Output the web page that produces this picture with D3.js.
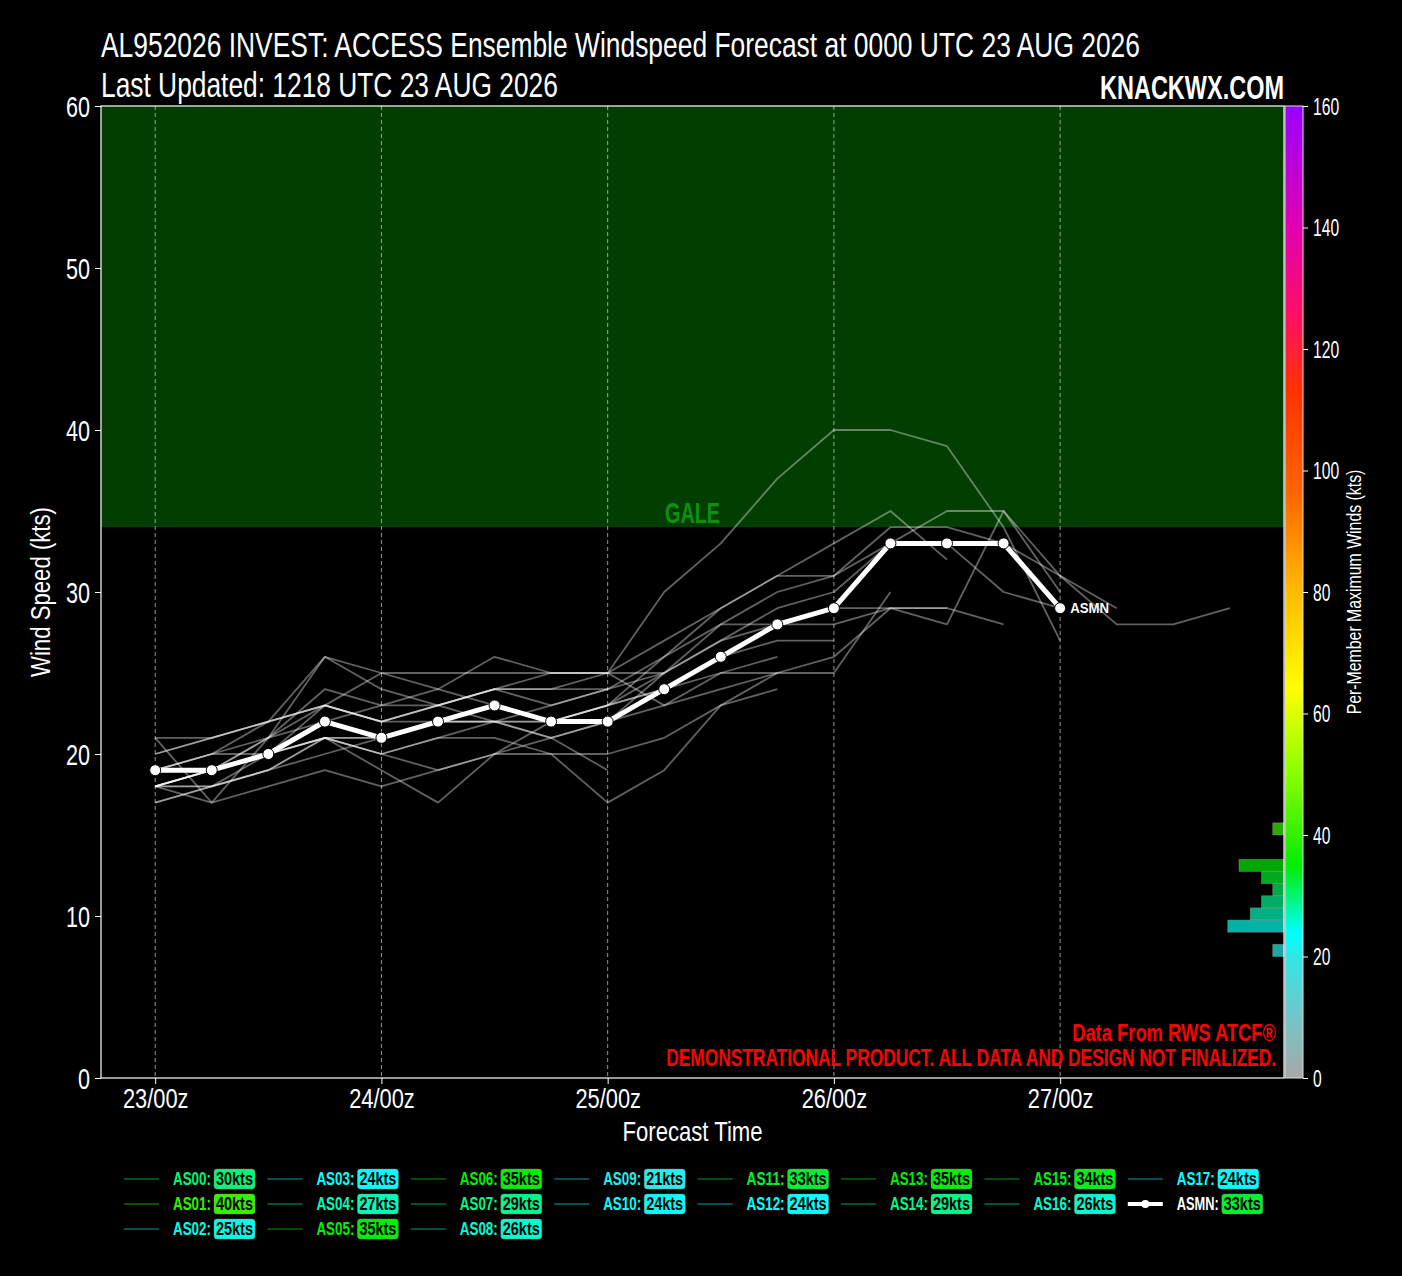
<!DOCTYPE html>
<html><head><meta charset="utf-8">
<script src="https://cdn.jsdelivr.net/npm/d3@7"></script>
<style>body{margin:0;background:#000;} svg{display:block}</style>
</head><body>
<svg id="chart" width="1402" height="1276"></svg>
<script>
// ---------------- DATA ----------------
const forecastHours = [0,6,12,18,24,30,36,42,48,54,60,66,72,78,84,90,96,102,108,114];
const dayTicks = [0,24,48,72,96];
const dayLabels = ["23/00z","24/00z","25/00z","26/00z","27/00z"];
const yTicks = [0,10,20,30,40,50,60];
const cbTicks = [0,20,40,60,80,100,120,140,160];
const memberNames = ["AS00","AS01","AS02","AS03","AS04","AS05","AS06","AS07","AS08","AS09","AS10","AS11","AS12","AS13","AS14","AS15","AS16","AS17"];
const memberMax = [30,40,25,24,27,35,35,29,26,21,24,33,24,35,29,34,26,24];
const AS00 = [18,18,19,21,20,21,22,22,23,24,25,25,25,30];
const AS01 = [18,19,21,24,23,23,24,24,25,30,33,37,40,40,39,34,27];
const AS02 = [17,18,20,23,25,25,25,25,25,23,24,25];
const AS03 = [18,17,18,19,18,19,20,20,17,19,23,24];
const AS04 = [20,21,22,26,25,24,23,22,22,24,26,27,27];
const AS05 = [19,20,22,23,22,23,24,23,24,26,28,30,31,33,35,35,31,29];
const AS06 = [18,19,21,23,22,23,24,25,25,27,29,31,33,35,32];
const AS07 = [17,18,19,21,20,21,21,20,20,21,23,25,26,29,29,28];
const AS08 = [21,17,21,26,24,23,22,22,22,23,25,26];
const AS09 = [18,19,20,21,20,19,20,21,19];
const AS10 = [18,19,20,21,19,17,20,22,23,24];
const AS11 = [20,21,22,23,22,23,24,24,24,25,27,29,30,33,33,30,29];
const AS12 = [18,18,19,20,21,22,22,21,22,24];
const AS13 = [19,20,20,22,21,22,23,22,23,25,27,28,29,29,28,35,30];
const AS14 = [18,19,20,21,21,22,22,21,22,25,28,28,28,29,29];
const AS15 = [21,21,22,23,22,22,23,22,23,26,29,31,31,34,34,33,31,28,28,29];
const AS16 = [19,20,21,22,23,24,26,25,25,25];
const AS17 = [18,19,20,21,21,22,22,23,24];
const memberSeries = [AS00,AS01,AS02,AS03,AS04,AS05,AS06,AS07,AS08,AS09,AS10,AS11,AS12,AS13,AS14,AS15,AS16,AS17];
const asmnSeries = [19,19,20,22,21,22,23,22,22,24,26,28,29,33,33,33,29];
const asmnMax = 33;
const galeThreshold = 34;
const cmapStops = [0,10,20,24,35,40,50,64,80,96,113,125,140,160];
const cmapColors = ["#a8a8a8","#72c6c8","#33e6e6","#00ffff","#00ee00","#33f000","#88ff00","#ffff00","#ffbb00","#ff6600","#ff3300","#ff1060","#e000b0","#9900ff"];

// ---------------- SETUP ----------------
const FONT = "'Liberation Sans','Arimo',sans-serif";
const svg = d3.select("#chart");
const L = 101, R = 1284, T = 106, B = 1078;
const x = d3.scaleLinear().domain([-5.75,119.75]).range([L,R]);
const y = d3.scaleLinear().domain([0,60]).range([B,T]);
const cb = d3.scaleLinear().domain([0,160]).range([B,T]);
const cmap = d3.scaleLinear().domain(cmapStops).range(cmapColors).interpolate(d3.interpolateRgb).clamp(true);
const histW = d3.scaleLinear().domain([0,1]).range([0,11.25]);

// text drawn at origin then squeezed by a transform (mimics a condensed face)
function ctext(parent, o){
  const t = parent.append("text").attr("x",0).attr("y",0)
    .attr("font-family",FONT).attr("font-size",o.size).attr("font-weight",o.weight||"normal")
    .attr("fill",o.fill||"#fff").attr("text-anchor",o.anchor||"start").text(o.text);
  const w = t.node().getComputedTextLength();
  const sx = o.width ? o.width/w : (o.f||1);
  t.attr("transform",`translate(${o.x},${o.y})${o.rotate?` rotate(${o.rotate})`:""} scale(${sx},1)`);
  return t;
}
function squeezeAxisText(sel, f){
  sel.each(function(){
    const s = d3.select(this);
    const xx = +s.attr("x")||0, yy = +s.attr("y")||0;
    s.attr("x",0).attr("y",0).attr("transform",`translate(${xx},${yy}) scale(${f},1)`);
  });
}

svg.append("rect").attr("width",1402).attr("height",1276).attr("fill","#000");

const defs = svg.append("defs");
defs.append("clipPath").attr("id","plotclip").append("rect")
  .attr("x",L).attr("y",T).attr("width",R-L).attr("height",B-T);

// gale zone
svg.append("rect").attr("x",L).attr("y",y(60)).attr("width",R-L).attr("height",y(galeThreshold)-y(60)).attr("fill","#023e02");
ctext(svg,{x:(L+R)/2,y:y(galeThreshold)-4,anchor:"middle",size:30,weight:"bold",fill:"#0f8f0f",width:55,text:"GALE"});

// vertical dashed day lines
svg.append("g").selectAll("line").data(dayTicks).join("line")
  .attr("x1",d=>x(d)).attr("x2",d=>x(d)).attr("y1",T).attr("y2",B)
  .attr("stroke","#c8c8c8").attr("stroke-opacity",0.75).attr("stroke-width",1).attr("stroke-dasharray","4,3");

// histogram
const allMax = memberMax.concat([asmnMax]);
const bins = d3.bin().domain([0,160]).thresholds(d3.range(0,162,2))(allMax).filter(b=>b.length>0);
svg.append("g").selectAll("rect").data(bins).join("rect")
  .attr("x",d=>R-histW(d.length)).attr("width",d=>histW(d.length))
  .attr("y",d=>cb(d.x1)).attr("height",d=>cb(d.x0)-cb(d.x1))
  .attr("fill",d=>cmap((d.x0+d.x1)/2)).attr("fill-opacity",0.7)
  .attr("stroke","#9a9a9a").attr("stroke-opacity",0.5).attr("stroke-width",0.8);

// member lines
const line = d3.line().x((d,i)=>x(forecastHours[i])).y(d=>y(d));
const pg = svg.append("g").attr("clip-path","url(#plotclip)");
pg.selectAll("path.member").data(memberSeries).join("path").attr("class","member")
  .attr("d",line).attr("fill","none").attr("stroke","#ffffff").attr("stroke-opacity",0.38)
  .attr("stroke-width",1.8).attr("stroke-linejoin","round");

// ASMN
pg.append("path").datum(asmnSeries).attr("d",line).attr("fill","none")
  .attr("stroke","#fff").attr("stroke-width",5).attr("stroke-linejoin","round");
pg.selectAll("circle.asmn").data(asmnSeries).join("circle").attr("class","asmn")
  .attr("cx",(d,i)=>x(forecastHours[i])).attr("cy",d=>y(d)).attr("r",5.5)
  .attr("fill","#fff").attr("stroke","#000").attr("stroke-width",1);
const lastI = asmnSeries.length-1;
ctext(svg,{x:x(forecastHours[lastI])+10,y:y(asmnSeries[lastI])+5,size:15,weight:"bold",width:39,text:"ASMN"});

// frame
svg.append("rect").attr("x",L).attr("y",T).attr("width",R-L).attr("height",B-T)
  .attr("fill","none").attr("stroke","#fff").attr("stroke-width",1.2);

// y axis
const yAxis = svg.append("g").attr("transform",`translate(${L},0)`)
  .call(d3.axisLeft(y).tickValues(yTicks).tickSize(6).tickPadding(5));
yAxis.select(".domain").remove();
yAxis.selectAll("line").attr("stroke","#fff");
yAxis.selectAll("text").attr("fill","#fff").attr("font-family",FONT).attr("font-size",30).attr("dy","0.36em");
squeezeAxisText(yAxis.selectAll("text"),0.72);

// x axis
const xAxis = svg.append("g").attr("transform",`translate(0,${B})`)
  .call(d3.axisBottom(x).tickValues(dayTicks).tickFormat((d,i)=>dayLabels[i]).tickSize(6).tickPadding(4));
xAxis.select(".domain").remove();
xAxis.selectAll("line").attr("stroke","#fff");
xAxis.selectAll("text").attr("fill","#fff").attr("font-family",FONT).attr("font-size",28);
squeezeAxisText(xAxis.selectAll("text"),0.78);

ctext(svg,{x:(L+R)/2,y:1141,anchor:"middle",size:28,width:140,text:"Forecast Time"});
ctext(svg,{x:50,y:(T+B)/2,anchor:"middle",size:28,width:170,rotate:-90,text:"Wind Speed (kts)"});

// colorbar
const grad = defs.append("linearGradient").attr("id","cbgrad").attr("x1",0).attr("x2",0).attr("y1",1).attr("y2",0);
grad.selectAll("stop").data(cmapStops).join("stop")
  .attr("offset",d=>d/160).attr("stop-color",(d,i)=>cmapColors[i]);
const cbX = 1285, cbW = 18;
svg.append("rect").attr("x",cbX).attr("y",cb(160)).attr("width",cbW).attr("height",cb(0)-cb(160))
  .attr("fill","url(#cbgrad)").attr("stroke","#e0e0e0").attr("stroke-width",1);
const cbAxis = svg.append("g").attr("transform",`translate(${cbX+cbW},0)`)
  .call(d3.axisRight(cb).tickValues(cbTicks).tickSize(5).tickPadding(5));
cbAxis.select(".domain").remove();
cbAxis.selectAll("line").attr("stroke","#fff");
cbAxis.selectAll("text").attr("fill","#fff").attr("font-family",FONT).attr("font-size",23).attr("dy","0.36em");
squeezeAxisText(cbAxis.selectAll("text"),0.68);
ctext(svg,{x:1361,y:(T+B)/2,anchor:"middle",size:20,width:245,rotate:-90,text:"Per-Member Maximum Winds (kts)"});

// titles
ctext(svg,{x:L,y:57,size:35,width:1039,text:"AL952026 INVEST: ACCESS Ensemble Windspeed Forecast at 0000 UTC 23 AUG 2026"});
ctext(svg,{x:L,y:97,size:35,width:457,text:"Last Updated: 1218 UTC 23 AUG 2026"});
ctext(svg,{x:R,y:99,size:34,weight:"bold",anchor:"end",width:184,text:"KNACKWX.COM"});

// disclaimer
ctext(svg,{x:1276,y:1041,size:23,weight:"bold",anchor:"end",fill:"#ff0000",width:204,text:"Data From RWS ATCF®"});
ctext(svg,{x:1276,y:1066,size:23,weight:"bold",anchor:"end",fill:"#ff0000",width:610,text:"DEMONSTRATIONAL PRODUCT. ALL DATA AND DESIGN NOT FINALIZED."});

// legend
const legendEntries = memberNames.map((n,i)=>({name:n, max:memberMax[i], mean:false}))
  .concat([{name:"ASMN", max:asmnMax, mean:true}]);
const colSizes = [3,3,3,2,2,2,2,2];
let idx = 0;
const lg = svg.append("g");
colSizes.forEach((sz,c)=>{
  for(let r=0;r<sz;r++){
    const e = legendEntries[idx++];
    const x0 = 124 + c*143.4, y0 = 1179 + r*25;
    const col = cmap(e.max);
    const g = lg.append("g");
    if(e.mean){
      g.append("line").attr("x1",x0).attr("x2",x0+35).attr("y1",y0).attr("y2",y0).attr("stroke","#fff").attr("stroke-width",4);
      g.append("circle").attr("cx",x0+17.5).attr("cy",y0).attr("r",4).attr("fill","#fff");
    } else {
      g.append("line").attr("x1",x0).attr("x2",x0+35).attr("y1",y0).attr("y2",y0).attr("stroke",col).attr("stroke-opacity",0.32).attr("stroke-width",2);
    }
    const lw = e.mean?42:38;
    ctext(g,{x:x0+49,y:y0+6,size:18,weight:"bold",fill:e.mean?"#fff":col,width:lw,text:e.name+":"});
    const bx = x0+49+lw+3;
    g.append("rect").attr("x",bx).attr("y",y0-10).attr("width",41).attr("height",20)
      .attr("rx",3).attr("fill",col).attr("stroke","#888").attr("stroke-opacity",0.4);
    ctext(g,{x:bx+2,y:y0+6,size:18,weight:"bold",fill:"#000",width:37,text:e.max+"kts"});
  }
});
</script>
</body></html>
